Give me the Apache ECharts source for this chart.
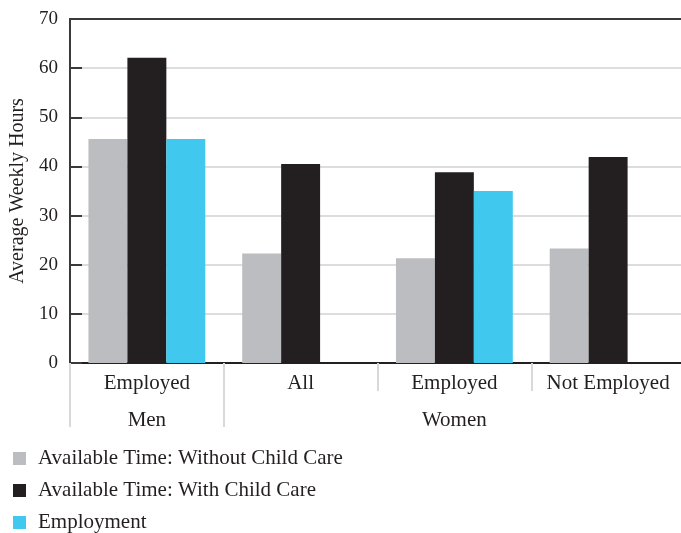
<!DOCTYPE html>
<html>
<head>
<meta charset="utf-8">
<script src="https://cdn.jsdelivr.net/npm/echarts@6/dist/echarts.min.js"></script>
<style>html,body{margin:0;padding:0;background:#fff;}#c{width:681px;height:533px;}</style>
</head>
<body>
<div id="c"></div>
<script>
const categories = ['Employed', 'All', 'Employed', 'Not Employed'];
const groups = ['Men', '', 'Women', ''];
const seriesNames = ['Available Time: Without Child Care', 'Available Time: With Child Care', 'Employment'];
const withoutChildCare = [45.6, 22.3, 21.3, 23.3];
const withChildCare = [62.1, 40.5, 38.8, 41.9];
const employment = [45.6, null, 35.0, null];
const yTicks = [0, 10, 20, 30, 40, 50, 60, 70];

const FONT = '"Liberation Serif", "Times New Roman", serif';
const TXT = '#231f20';
const colors = ['#bcbdc0', '#231f20', '#40c8ef'];

const chart = echarts.init(document.getElementById('c'), null, {renderer: 'canvas'});
const mk = (name, data, i) => ({
  name, type: 'bar', data, xAxisIndex: 0, yAxisIndex: 0,
  barGap: '0%', barCategoryGap: '24%',
  itemStyle: {color: colors[i]}, emphasis: {disabled: true}
});
chart.setOption({
  animation: false,
  textStyle: {fontFamily: FONT, color: TXT},
  grid: {left: 70, top: 19, right: -4, bottom: 170, containLabel: false, outerBoundsMode: 'none'},
  legend: {
    orient: 'vertical', left: 13, top: 448, height: 100, padding: 0,
    itemWidth: 13, itemHeight: 13, itemGap: 11,
    icon: 'rect', selectedMode: false,
    textStyle: {fontFamily: FONT, fontSize: 21, color: TXT, padding: [0, 0, 0, 7]},
    data: seriesNames
  },
  xAxis: [
    {
      type: 'category', data: categories, position: 'bottom',
      axisLine: {show: true, lineStyle: {color: '#231f20', width: 2}},
      axisTick: {show: true, length: 28, lineStyle: {color: '#d9d9d9', width: 2}},
      axisLabel: {fontFamily: FONT, fontSize: 21, color: TXT, margin: 10, interval: 0},
      splitLine: {show: true, interval: (i) => i === 1, lineStyle: {color: '#231f20', width: 2}}
    },
    {
      type: 'category', data: groups, position: 'bottom', offset: 28,
      axisLine: {show: false},
      axisTick: {show: true, length: 36, interval: (i) => i === 0 || i === 1, lineStyle: {color: '#d9d9d9', width: 2}},
      axisLabel: {fontFamily: FONT, fontSize: 21, color: TXT, margin: 19, interval: 0},
      splitLine: {show: false}
    },
    {
      type: 'category', data: categories, position: 'top',
      axisLine: {show: true, lineStyle: {color: '#3a3a3a', width: 2}},
      axisTick: {show: false}, axisLabel: {show: false}, splitLine: {show: false}
    }
  ],
  yAxis: {
    type: 'value', min: yTicks[0], max: yTicks[yTicks.length - 1], interval: 10,
    name: 'Average Weekly Hours', nameLocation: 'middle', nameGap: 39,
    nameTextStyle: {fontFamily: FONT, fontSize: 20, color: TXT},
    axisLine: {show: true, lineStyle: {color: '#3a3a3a', width: 2}},
    axisTick: {show: true, inside: true, length: 12, lineStyle: {color: '#3a3a3a', width: 2}},
    axisLabel: {fontFamily: FONT, fontSize: 19, color: TXT, margin: 12},
    splitLine: {show: true, lineStyle: {color: '#dddddd', width: 2}}
  },
  series: [
    mk(seriesNames[0], withoutChildCare, 0),
    mk(seriesNames[1], withChildCare, 1),
    mk(seriesNames[2], employment, 2)
  ]
});
</script>
</body>
</html>
